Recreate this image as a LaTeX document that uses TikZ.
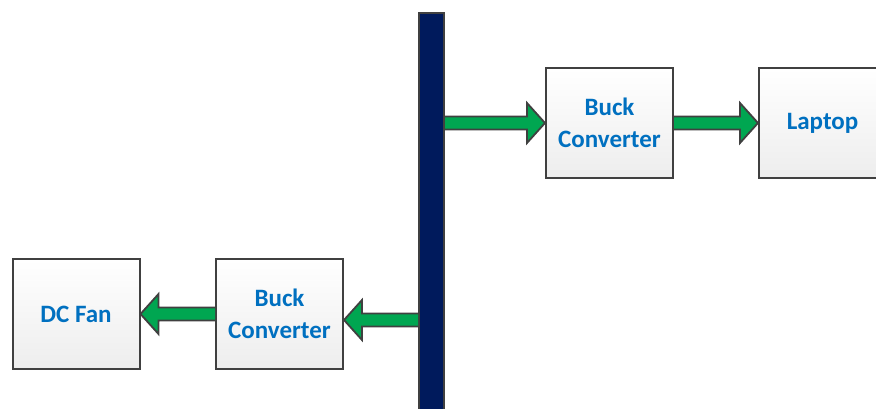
\documentclass[tikz,border=0pt]{standalone}
\usepackage{fontspec}
\setmainfont{Carlito}
\usetikzlibrary{calc}

\definecolor{busblue}{RGB}{0,26,92}
\definecolor{arrowgreen}{RGB}{0,166,81}
\definecolor{edgegray}{RGB}{64,64,64}
\definecolor{textblue}{RGB}{0,112,192}

\tikzset{block/.style={rectangle,draw=edgegray,line width=2pt,top color=white,bottom color=black!7,
  minimum width=127pt,minimum height=110pt,align=center,text=textblue,
  font=\fontsize{25}{32}\selectfont\bfseries}}
\tikzset{fatarrow/.style={fill=arrowgreen,draw=edgegray,line width=1.8pt,line join=miter}}

% #1 direction (1 right, -1 left), #2 start, #3 tip
\newcommand\fatarrow[3]{%
  \filldraw[fatarrow] ($(#2)+(0,6.5)$) -- ($(#3)+(-#1*18,6.5)$) -- ($(#3)+(-#1*18,20)$) -- (#3)
    -- ($(#3)+(-#1*18,-20)$) -- ($(#3)+(-#1*18,-6.5)$) -- ($(#2)+(0,-6.5)$);}

\begin{document}
\begin{tikzpicture}[x=1pt,y=1pt]
    \useasboundingbox (0,0) rectangle (876,408);
    \node (BUS) at (431.5,191.5) [rectangle,draw=edgegray,fill=busblue,line width=2pt,minimum width=25pt,minimum height=407pt]{};
    \node (C1) at (609.5,285) [block]{Buck\\Converter};
    \node (L1) at (822.5,285) [block]{Laptop};
    \node (C2) at (279.5,94) [block]{Buck\\Converter};
    \node (F1) at (76,94) [block]{DC Fan};

    \coordinate (a2) at ($(C2.east)+(0,-6)$);

    \fatarrow{1}{BUS.east |- C1.west}{C1.west}
    \fatarrow{1}{C1.east}{L1.west}
    \fatarrow{-1}{BUS.west |- a2}{a2}
    \fatarrow{-1}{C2.west}{F1.east}
  \end{tikzpicture}
\end{document}
